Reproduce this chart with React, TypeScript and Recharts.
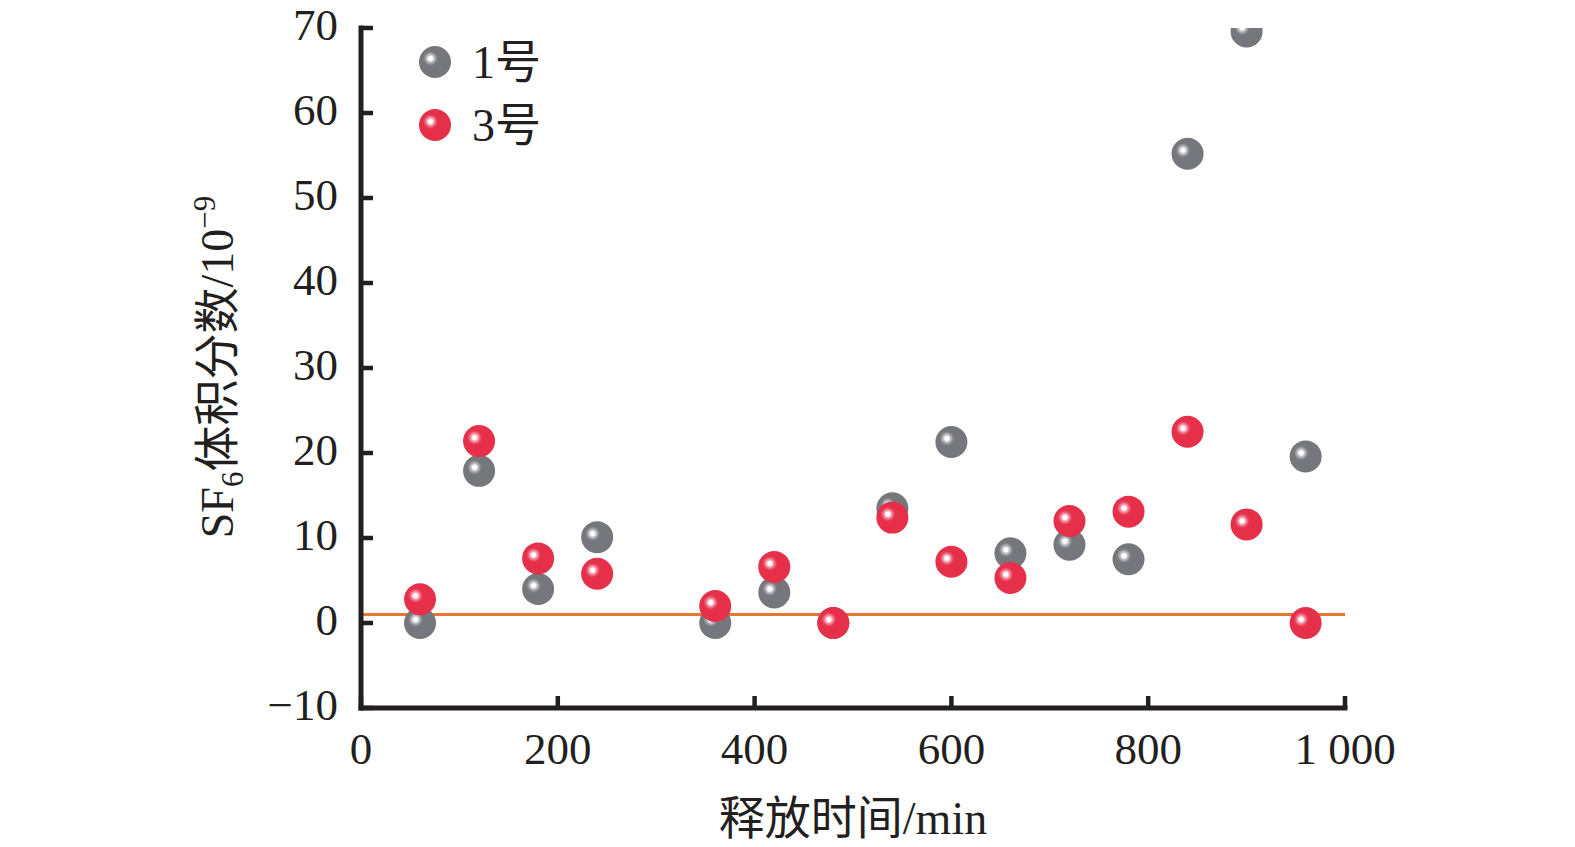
import React from 'react';
import { ScatterChart, Scatter, XAxis, YAxis, ReferenceLine, Label } from 'recharts';

const times = [60, 120, 180, 240, 360, 420, 480, 540, 600, 660, 720, 780, 840, 900, 960];
const series1 = [0, 17.9, 4.0, 10.1, 0, 3.6, 0, 13.5, 21.3, 8.2, 9.2, 7.5, 55.2, 69.6, 19.6];
const series3 = [2.8, 21.4, 7.6, 5.8, 2.0, 6.6, 0, 12.4, 7.2, 5.3, 12.0, 13.1, 22.5, 11.6, 0];
const xTicks = [0, 200, 400, 600, 800, 1000];
const yTicks = [-10, 0, 10, 20, 30, 40, 50, 60, 70];
const refValue = 1;
const seriesNames = ['1号', '3号'];
const xLabel = '释放时间/min';

const data1 = times.map((t, i) => ({ x: t, y: series1[i] }));
const data3 = times.map((t, i) => ({ x: t, y: series3[i] }));

const FONT = '"Liberation Serif", "Times New Roman", "Noto Sans CJK SC", serif';
const INK = '#231f20';
const GRAY = '#76777c';
const RED = '#e6304a';
const ORANGE = '#e47830';

const Sphere = ({ cx, cy, color, hl }: any) => (
  <g>
    <circle cx={cx} cy={cy} r={16} fill={color} />
    <circle cx={cx - 4.5} cy={cy - 3.5} r={8} fill={`url(#${hl})`} />
  </g>
);

const Defs = () => (
  <defs>
    <radialGradient id="hlGray" cx="0.5" cy="0.5" r="0.5">
      <stop offset="0" stopColor="#ffffff" />
      <stop offset="0.25" stopColor="#ffffff" />
      <stop offset="0.4" stopColor="#d0d0d2" />
      <stop offset="0.65" stopColor="#a6a7ab" stopOpacity="0.85" />
      <stop offset="1" stopColor={GRAY} stopOpacity="0" />
    </radialGradient>
    <radialGradient id="hlRed" cx="0.5" cy="0.5" r="0.5">
      <stop offset="0" stopColor="#ffffff" />
      <stop offset="0.25" stopColor="#ffffff" />
      <stop offset="0.4" stopColor="#f6b3bd" />
      <stop offset="0.65" stopColor="#ef7488" stopOpacity="0.85" />
      <stop offset="1" stopColor={RED} stopOpacity="0" />
    </radialGradient>
  </defs>
);

const fmtX = (v: number) => (v >= 1000 ? `${Math.floor(v / 1000)} ${String(v % 1000).padStart(3, '0')}` : String(v));
const fmtY = (v: number) => (v < 0 ? `\u2212${Math.abs(v)}` : String(v));

const XTick = (props: any) => {
  const { x, y, payload } = props;
  return (
    <g>
      <line x1={x} x2={x} y1={y} y2={y - 12} stroke={INK} strokeWidth={4.5} />
      <text x={x} y={y + 56} textAnchor="middle" fontFamily={FONT} fontSize={45} fill={INK}>
        {fmtX(payload.value)}
      </text>
    </g>
  );
};

const YTick = (props: any) => {
  const { x, y, payload } = props;
  return (
    <g>
      <line x1={x} x2={x + 12} y1={y} y2={y} stroke={INK} strokeWidth={4.5} />
      <text x={x - 23} y={y + 12} textAnchor="end" fontFamily={FONT} fontSize={45} fill={INK}>
        {fmtY(payload.value)}
      </text>
    </g>
  );
};

const YLabel = () => {
  const cx = 218;
  const cy = 367;
  return (
    <text
      transform={`rotate(-90, ${cx}, ${cy})`}
      x={cx}
      y={cy + 15}
      textAnchor="middle"
      fontFamily={FONT}
      fontSize={46}
      fill={INK}
    >
      SF
      <tspan fontSize={31} dy={10}>6</tspan>
      <tspan dy={-10}>体积分数/10</tspan>
      <tspan fontSize={31} dy={-18}>−9</tspan>
    </text>
  );
};

const XLabel = (props: any) => {
  const vb = props.viewBox || {};
  const cx = (vb.x ?? 361) + (vb.width ?? 984) / 2;
  return (
    <text x={cx} y={834} textAnchor="middle" fontFamily={FONT} fontSize={46} fill={INK}>
      {xLabel}
    </text>
  );
};

const LegendOverlay = () => (
  <svg width={220} height={140} style={{ position: 'absolute', left: 410, top: 30, display: 'block' }}>
    <Sphere cx={25} cy={32} color={GRAY} hl="hlGray" />
    <text x={62} y={48} fontFamily={FONT} fontSize={46} fill={INK}>{seriesNames[0]}</text>
    <Sphere cx={25} cy={95} color={RED} hl="hlRed" />
    <text x={62} y={111} fontFamily={FONT} fontSize={46} fill={INK}>{seriesNames[1]}</text>
  </svg>
);

export default function App() {
  return (
    <div style={{ position: 'absolute', left: 0, top: 0, width: 1575, height: 847, background: '#fff' }}>
      <ScatterChart width={1575} height={847} margin={{ top: 28, right: 230, bottom: 0, left: 0 }}>
        <Defs />
        <XAxis
          type="number"
          dataKey="x"
          domain={[0, 1000]}
          ticks={xTicks}
          interval={0}
          height={139}
          tickSize={0}
          tickMargin={0}
          tickLine={false}
          tick={<XTick />}
          axisLine={{ stroke: INK, strokeWidth: 5, strokeLinecap: 'square' }}
          allowDataOverflow
        >
          <Label content={<XLabel />} />
        </XAxis>
        <YAxis
          type="number"
          dataKey="y"
          domain={[-10, 70]}
          ticks={yTicks}
          interval={0}
          width={361}
          tickSize={0}
          tickMargin={0}
          tickLine={false}
          tick={<YTick />}
          axisLine={{ stroke: INK, strokeWidth: 5, strokeLinecap: 'square' }}
          allowDataOverflow
        >
          <Label content={<YLabel />} />
        </YAxis>
        <ReferenceLine y={refValue} stroke={ORANGE} strokeWidth={3} />
        <Scatter
          name={seriesNames[0]}
          data={data1}
          isAnimationActive={false}
          shape={(p: any) => <Sphere cx={p.cx} cy={p.cy} color={GRAY} hl="hlGray" />}
        />
        <Scatter
          name={seriesNames[1]}
          data={data3}
          isAnimationActive={false}
          shape={(p: any) => <Sphere cx={p.cx} cy={p.cy} color={RED} hl="hlRed" />}
        />
      </ScatterChart>
      <LegendOverlay />
    </div>
  );
}
